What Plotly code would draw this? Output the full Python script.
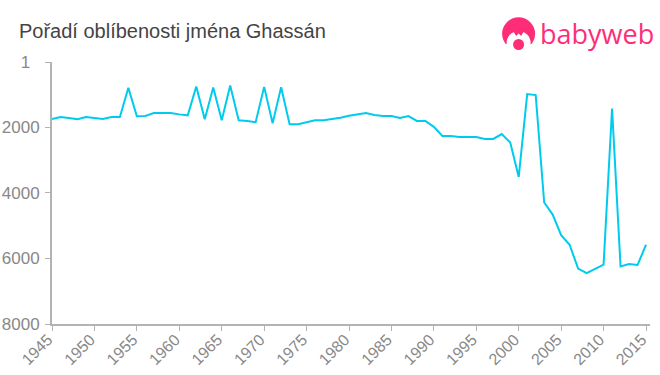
import plotly.graph_objects as go

years = list(range(1945, 2016))
ranks = [1740, 1680, 1710, 1750, 1680, 1710, 1740, 1680, 1680, 790,
         1660, 1650, 1560, 1560, 1560, 1600, 1630, 750, 1750, 780,
         1780, 720, 1780, 1800, 1840, 760, 1870, 770, 1900, 1900,
         1840, 1780, 1780, 1750, 1700, 1640, 1610, 1560, 1620, 1650,
         1650, 1710, 1650, 1800, 1800, 1980, 2260, 2260, 2290, 2290,
         2290, 2350, 2350, 2200, 2460, 3510, 980, 1010, 4290, 4660,
         5290, 5580, 6310, 6450, 6320, 6190, 1425, 6240, 6170, 6200,
         5580]
x_ticks = list(range(1945, 2016, 5))
y_ticks = [1, 2000, 4000, 6000, 8000]
y_labels = ["1\u00a0\u00a0", "2000", "4000", "6000", "8000"]
title_text = "Pořadí oblíbenosti jména Ghassán"
logo_text = "babyweb"

W, H = 660, 375
L, T, PW, PH = 52, 62, 598, 262
PINK = "#ff2d78"
def px(x): return (x - L) / PW
def py(y): return 1 - (y - T) / PH

fig = go.Figure(go.Scatter(x=years, y=ranks, mode="lines",
                           line=dict(color="#00cbee", width=2), hoverinfo="skip"))

axis_common = dict(showgrid=False, zeroline=False, showline=True, linecolor="#b3b3b3",
                   linewidth=2, ticks="outside", tickcolor="#b3b3b3", tickwidth=1,
                   ticklen=5, automargin=False)
fig.update_xaxes(range=[1945, 2015.47], tickvals=x_ticks, ticktext=[str(v) for v in x_ticks],
                 tickangle=-45, ticklabelstandoff=-7, ticklabelshift=-4,
                 tickfont=dict(family="Liberation Sans", size=16, color="#888888"), **axis_common)
fig.update_yaxes(range=[8000, 1], tickvals=y_ticks, ticktext=y_labels, ticklabelstandoff=2,
                 tickfont=dict(family="Liberation Sans", size=17, color="#888888"), **axis_common)

cx, cy = 518.6, 33.8
def circle(x0, x1, y0, y1, color):
    return dict(type="circle", xref="paper", yref="paper", x0=px(x0), x1=px(x1),
                y0=py(y0), y1=py(y1), fillcolor=color, line_width=0, layer="above")
tuft = [(cx - 6, 30), (cx + 6, 30), (cx + 2.5, 36), (cx, 33.5), (cx - 2.5, 36)]
tuft_path = "M " + " L ".join(f"{px(a)},{py(b)}" for a, b in tuft) + " Z"
shapes = [
    circle(cx - 16.5, cx + 16.5, cy - 16.5, cy + 16.5, PINK),
    circle(cx - 12, cx + 12, 31, 55, "white"),
    dict(type="rect", xref="paper", yref="paper", x0=px(cx - 18), x1=px(cx + 18),
         y0=py(44), y1=py(52), fillcolor="white", line_width=0, layer="above"),
    dict(type="path", xref="paper", yref="paper", path=tuft_path, fillcolor=PINK,
         line_width=0, layer="above"),
    circle(cx - 5.5, cx + 5.5, 39, 50, PINK),
]
fig.update_layout(
    width=W, height=H, margin=dict(l=L, r=W - L - PW, t=T, b=H - T - PH),
    paper_bgcolor="white", plot_bgcolor="white", showlegend=False, shapes=shapes,
    annotations=[
        dict(text=title_text, xref="paper", yref="paper", x=px(17), y=py(31), xanchor="left",
             yanchor="middle", showarrow=False,
             font=dict(family="Liberation Sans", size=20, color="#444444")),
        dict(text=logo_text, xref="paper", yref="paper", x=px(538), y=py(33), xanchor="left",
             yanchor="middle", showarrow=False,
             font=dict(family="Open Sans", size=27, color=PINK)),
    ],
)
fig.write_html("out.html", config={"displayModeBar": False},
               post_script="document.body.style.margin='0';window.dispatchEvent(new Event('resize'));")
